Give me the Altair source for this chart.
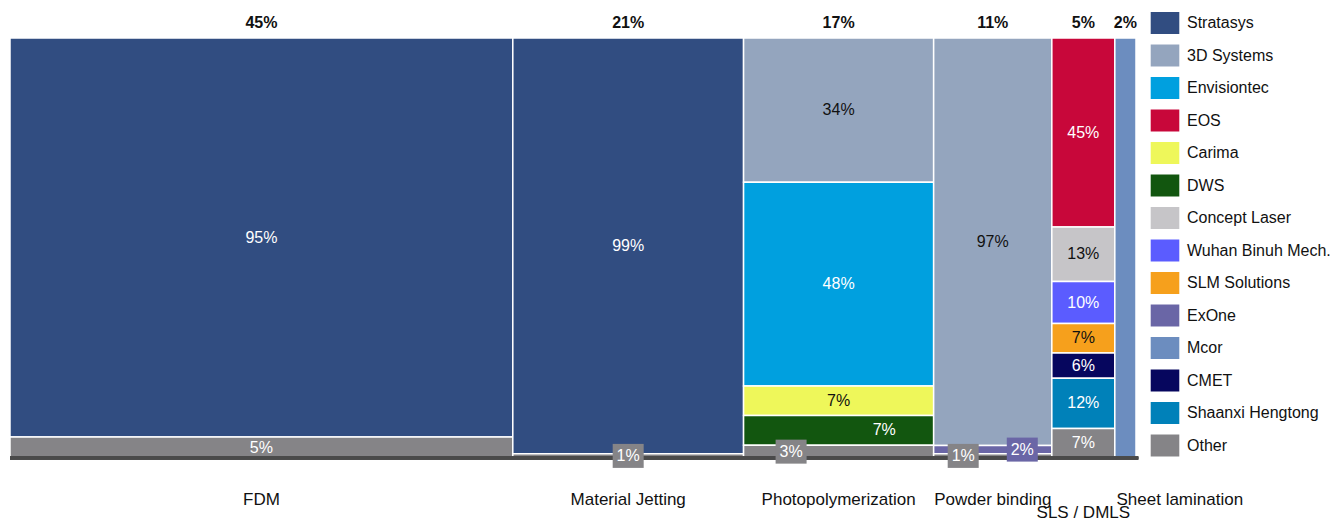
import altair as alt
import pandas as pd

FONT = "Liberation Sans"

columns = ["FDM", "Material Jetting", "Photopolymerization", "Powder binding", "SLS / DMLS", "Sheet lamination"]
column_label = ["45%", "21%", "17%", "11%", "5%", "2%"]
column_share = [45.1, 20.7, 17.05, 10.6, 5.65, 1.9]

companies = ["Stratasys", "3D Systems", "Envisiontec", "EOS", "Carima", "DWS", "Concept Laser",
             "Wuhan Binuh Mech.", "SLM Solutions", "ExOne", "Mcor", "CMET", "Shaanxi Hengtong", "Other"]
colors = ["#314d81", "#94a5be", "#00a0df", "#c8073a", "#eef75a", "#12560f", "#c6c5c8",
          "#5b5cff", "#f6a01c", "#6a66a6", "#6c8dbf", "#06065e", "#0081b9", "#858487"]

# stacks, listed top to bottom
fdm_makers = ["Stratasys", "Other"]
fdm_share = [95, 5]
mj_makers = ["Stratasys", "Other"]
mj_share = [99, 1]
photo_makers = ["3D Systems", "Envisiontec", "Carima", "DWS", "Other"]
photo_share = [34, 48, 7, 7, 3]
powder_makers = ["3D Systems", "ExOne", "Other"]
powder_share = [97, 2, 1]
sls_makers = ["EOS", "Concept Laser", "Wuhan Binuh Mech.", "SLM Solutions", "CMET", "Shaanxi Hengtong", "Other"]
sls_share = [45, 13, 10, 7, 6, 12, 7]
sheet_makers = ["Mcor"]
sheet_share = [100]

stacks = [(fdm_makers, fdm_share), (mj_makers, mj_share), (photo_makers, photo_share),
          (powder_makers, powder_share), (sls_makers, sls_share), (sheet_makers, sheet_share)]

# label styling
dark_text = {"3D Systems", "Carima", "Concept Laser", "SLM Solutions"}
label_xfrac = {("Photopolymerization", "DWS"): 0.74, ("Photopolymerization", "Other"): 0.25,
               ("Powder binding", "Other"): 0.25, ("Powder binding", "ExOne"): 0.75}
cat_dy = {"SLS / DMLS": 55}
cat_align = {"Sheet lamination": "left"}

rows = []
colrows = []
xstart = 0
for col, share, toplab, (makers, vals) in zip(columns, column_share, column_label, stacks):
    total = sum(vals)
    y = total
    for m, v in zip(makers, vals):
        y0 = (y - v) / total * 100
        y1 = y / total * 100
        frac = label_xfrac.get((col, m), 0.5)
        rows.append(dict(column=col, company=m, share=v, x0=xstart, x1=xstart + share,
                         y0=y0, y1=y1, yc=(y0 + y1) / 2, xl=xstart + share * frac,
                         label=f"{v}%", tcolor="#111111" if m in dark_text else "#ffffff",
                         boxed=v < 5, shown=share >= 3))
        y -= v
    al = cat_align.get(col, "center")
    colrows.append(dict(column=col, share=share, x0=xstart, xc=xstart + share / 2,
                        xt=(xstart + 0.15) if al == "left" else xstart + share / 2,
                        top=toplab, dy=cat_dy.get(col, 42), align=al))
    xstart += share

seg = pd.DataFrame(rows)
cols = pd.DataFrame(colrows)
xmax = sum(column_share)

xs = alt.Scale(domain=[0, xmax], nice=False, zero=False)
ys = alt.Scale(domain=[0, 100], nice=False, zero=False)
cs = alt.Scale(domain=companies, range=colors)

base = alt.Chart(seg)

rects = base.mark_rect(stroke="white", strokeWidth=1.5).encode(
    x=alt.X("x0:Q", scale=xs, axis=None),
    x2="x1:Q",
    y=alt.Y("y0:Q", scale=ys, axis=None),
    y2="y1:Q",
    color=alt.Color("company:N", scale=cs, legend=alt.Legend(
        title=None, orient="none", legendX=1144, legendY=-26,
        symbolType="M-1.3,-1L1.3,-1L1.3,1L-1.3,1Z", symbolSize=484,
        symbolStrokeWidth=0, symbolOpacity=1, labelFont=FONT, labelFontSize=16,
        labelColor="#111111", rowPadding=10.5, labelOffset=11, padding=0,
        labelLimit=300)),
)

baseline = alt.Chart(cols).mark_rule(color="#4a4a4a", strokeWidth=3).encode(
    x=alt.datum(0, scale=xs), x2=alt.datum(xmax + 0.2), y=alt.datum(0, scale=ys)
)

inner = base.transform_filter("datum.shown && !datum.boxed").mark_text(
    font=FONT, fontSize=16, baseline="middle"
).encode(
    x=alt.X("xl:Q", scale=xs), y=alt.Y("yc:Q", scale=ys), text="label:N",
    color=alt.Color("tcolor:N", scale=None),
)

boxes = base.transform_filter("datum.boxed").mark_rect(width=31, height=24).encode(
    x=alt.X("xl:Q", scale=xs), y=alt.Y("yc:Q", scale=ys),
    color=alt.Color("company:N", scale=cs, legend=None),
)
box_text = base.transform_filter("datum.boxed").mark_text(
    font=FONT, fontSize=16, baseline="middle", color="white"
).encode(x=alt.X("xl:Q", scale=xs), y=alt.Y("yc:Q", scale=ys), text="label:N")

top = alt.Chart(cols).mark_text(font=FONT, fontSize=16, fontWeight="bold", baseline="middle",
                                dy=-15, color="#111111").encode(
    x=alt.X("xc:Q", scale=xs), y=alt.datum(100, scale=ys), text="top:N")

bottom_center = alt.Chart(cols).transform_filter("datum.align == 'center'")
bottom_left = alt.Chart(cols).transform_filter("datum.align == 'left'")
cat_lab = alt.layer(
    bottom_center.transform_filter("datum.dy == 42").mark_text(font=FONT, fontSize=17, baseline="middle", dy=42, color="#111111").encode(
        x=alt.X("xt:Q", scale=xs), y=alt.datum(0, scale=ys), text="column:N"),
    bottom_center.transform_filter("datum.dy == 55").mark_text(font=FONT, fontSize=17, baseline="middle", dy=55, color="#111111").encode(
        x=alt.X("xt:Q", scale=xs), y=alt.datum(0, scale=ys), text="column:N"),
    bottom_left.mark_text(font=FONT, fontSize=17, baseline="middle", dy=42, align="left", color="#111111").encode(
        x=alt.X("xt:Q", scale=xs), y=alt.datum(0, scale=ys), text="column:N"),
)

chart = alt.layer(rects, baseline, inner, boxes, box_text, top, cat_lab).properties(
    width=1126, height=420,
    autosize=alt.AutoSizeParams(type="none"),
    padding={"left": 2, "top": 30, "right": 199, "bottom": 65},
).configure_view(strokeWidth=0)

chart.save("out.html", embed_options={"renderer": "svg", "actions": False})
